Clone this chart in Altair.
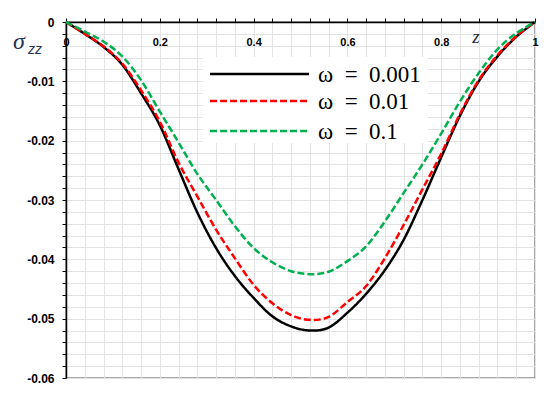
import altair as alt
import pandas as pd

# ---- data ----
z_vals = [0.00, 0.04, 0.08, 0.12, 0.16, 0.20, 0.24, 0.28, 0.32, 0.36, 0.40, 0.44, 0.48,
          0.52, 0.56, 0.60, 0.64, 0.68, 0.72, 0.76, 0.80, 0.84, 0.88, 0.92, 0.96, 1.00]
s_0001 = [0.0, -0.0020, -0.0042, -0.0072, -0.0120, -0.0174, -0.0248, -0.0321, -0.0381,
          -0.0428, -0.0465, -0.0496, -0.0513, -0.0520, -0.0515, -0.0490, -0.0458, -0.0418,
          -0.0367, -0.0300, -0.0228, -0.0158, -0.0100, -0.0058, -0.0025, 0.0]
s_001 = [0.0, -0.0020, -0.0041, -0.0070, -0.0115, -0.0168, -0.0237, -0.0294, -0.0350,
         -0.0398, -0.0443, -0.0474, -0.0494, -0.0502, -0.0497, -0.0472, -0.0445, -0.0398,
         -0.0342, -0.0282, -0.0222, -0.0155, -0.0098, -0.0056, -0.0024, 0.0]
s_01 = [0.0, -0.0016, -0.0033, -0.0058, -0.0098, -0.0151, -0.0203, -0.0256, -0.0300,
        -0.0344, -0.0381, -0.0405, -0.0420, -0.0425, -0.0421, -0.0403, -0.0378, -0.0336,
        -0.0288, -0.0240, -0.0188, -0.0134, -0.0086, -0.0046, -0.0019, 0.0]

series_names = ["ω\u2002=\u20020.001", "ω\u2002=\u20020.01", "ω\u2002=\u20020.1"]
series_colors = ["#000000", "#ff0000", "#00b050"]
series_dash = [[1, 0], [7, 3], [7, 3]]

x_ticks = [round(0.04 * i, 2) for i in range(26)]
y_ticks = [round(-0.002 * i, 3) for i in range(31)]

rows = []
for name, vals in zip(series_names, [s_0001, s_001, s_01]):
    for zv, sv in zip(z_vals, vals):
        rows.append({"z": zv, "s": sv, "series": name})
df = pd.DataFrame(rows)

W, H = 469, 356

x_enc = alt.X(
    "z:Q",
    scale=alt.Scale(domain=[0, 1], nice=False, zero=False),
    axis=alt.Axis(
        orient="top", values=x_ticks, title=None, grid=True, gridColor="#e3e3e3",
        gridWidth=1, domainColor="#000000", domainWidth=1.5, tickColor="#000000",
        tickSize=4, labelPadding=-24, labelBaseline="middle", labelFlush=False,
        labelExpr="abs(datum.value*5 - round(datum.value*5)) < 0.001 ? format(datum.value, '~g') : ''",
        labelFont="Liberation Sans", labelFontWeight="bold", labelFontSize=11,
        labelColor="#000000", labelOverlap=False,
    ),
)
y_enc = alt.Y(
    "s:Q",
    scale=alt.Scale(domain=[-0.06, 0], nice=False, zero=False),
    axis=alt.Axis(
        orient="left", values=y_ticks, title=None, grid=True, gridColor="#e3e3e3",
        gridWidth=1, domainColor="#000000", domainWidth=1.5, tickColor="#000000",
        tickSize=4, labelPadding=8, labelFlush=False, labelOverlap=False,
        labelExpr="abs(datum.value*100 - round(datum.value*100)) < 0.001 ? (datum.value == 0 ? '0' : replace(format(datum.value, '.2f'), '\u2212', '-')) : ''",
        labelFont="Liberation Sans", labelFontWeight="bold", labelFontSize=12,
        labelColor="#000000",
    ),
)

lines = alt.Chart(df).mark_line(interpolate="cardinal", strokeWidth=2.5).encode(
    x=x_enc,
    y=y_enc,
    color=alt.Color("series:N", scale=alt.Scale(domain=series_names, range=series_colors),
                    sort=series_names, legend=None),
    strokeDash=alt.StrokeDash("series:N", scale=alt.Scale(domain=series_names, range=series_dash),
                              sort=series_names, legend=None),
)

# ---- hand-built legend (long line samples) ----
one = pd.DataFrame({"k": [0]})
leg_layers = [
    alt.Chart(one).mark_rect(color="#ffffff").encode(
        x=alt.value(137), x2=alt.value(362), y=alt.value(35), y2=alt.value(121))
]
leg_rows_y = [52, 79, 109]
for name, col, dash, ry in zip(series_names, series_colors, series_dash, leg_rows_y):
    leg_layers.append(
        alt.Chart(one).mark_rule(color=col, strokeWidth=2.5, strokeDash=dash).encode(
            x=alt.value(144), x2=alt.value(243), y=alt.value(ry))
    )
    leg_layers.append(
        alt.Chart(pd.DataFrame({"t": [name]})).mark_text(
            font="Liberation Serif", fontSize=23, color="#000000",
            align="left", baseline="middle",
        ).encode(x=alt.value(252), y=alt.value(ry + 1), text="t:N")
    )

sigma = alt.Chart(pd.DataFrame({"t": ["σ"]})).mark_text(
    font="Liberation Serif", fontStyle="italic", fontSize=24, color="#1f3050",
    align="left", baseline="alphabetic",
).encode(x=alt.value(-53), y=alt.value(27), text="t:N")

sub = alt.Chart(pd.DataFrame({"t": ["zz"]})).mark_text(
    font="Liberation Sans", fontStyle="italic", fontSize=14, color="#1f3050",
    align="left", baseline="alphabetic",
).encode(x=alt.value(-38), y=alt.value(32), text="t:N")

zlab = alt.Chart(pd.DataFrame({"t": ["z"]})).mark_text(
    font="Liberation Serif", fontStyle="italic", fontSize=19, color="#2a2a3a",
    align="center", baseline="alphabetic",
).encode(x=alt.value(410), y=alt.value(21), text="t:N")

chart = alt.layer(lines, *leg_layers, sigma, sub, zlab).properties(
    width=W, height=H,
    autosize=alt.AutoSizeParams(type="none"),
    padding={"left": 58, "top": 14, "right": 6, "bottom": 10},
).configure_view(stroke="#8c8c8c", strokeWidth=1.5)

chart.save("out.html", embed_options={"renderer": "svg", "actions": False})
